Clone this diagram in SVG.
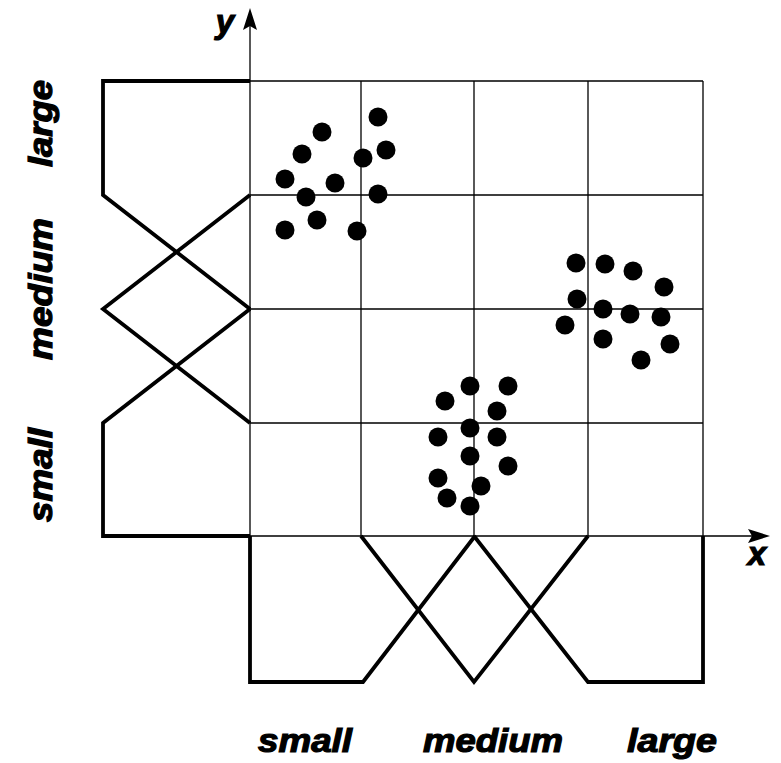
<svg xmlns="http://www.w3.org/2000/svg" width="781" height="763" viewBox="0 0 781 763">
<style>
.grid{stroke:#000;stroke-width:1.3;fill:none}
.mf{stroke:#000;stroke-width:3.8;fill:none;stroke-linejoin:miter}
.dot{fill:#000}
.lbl{font-family:"Liberation Sans",Arial,sans-serif;font-weight:bold;font-style:italic;font-size:33px;fill:#000;stroke:#000;stroke-width:1.2}
</style>
<rect width="781" height="763" fill="#fff"/>
<g id="grid">
<path class="grid" d="M250,81H703M250,195H703M250,309H703M250,423H703M361,81V536M474,81V536M588,81V536M703,81V536"/>
</g>
<g id="axes">
<path class="grid" d="M250,536H752M250,536V26" stroke-width="1.5"/>
<path d="M770,536L748,529L752,536L748,543Z" fill="#000"/>
<path d="M250,8L243,30L250,26L257,30Z" fill="#000"/>
<text class="lbl" x="225" y="33" text-anchor="middle" font-size="36">y</text>
<text class="lbl" x="757" y="565" text-anchor="middle">x</text>
</g>
<g id="y-membership">
<path class="mf" d="M250,81H103V195L250,309"/>
<path class="mf" d="M250,195L103,309L250,423"/>
<path class="mf" d="M250,309L103,423V536H250"/>
</g>
<g id="x-membership">
<path class="mf" d="M250,536V682H363L475,536"/>
<path class="mf" d="M361,536L474,682L588,536"/>
<path class="mf" d="M474,536L588,682H703V536"/>
</g>
<g id="cluster-small-large">
<circle class="dot" cx="378" cy="117" r="9.5"/>
<circle class="dot" cx="322" cy="132" r="9.5"/>
<circle class="dot" cx="386" cy="150" r="9.5"/>
<circle class="dot" cx="302" cy="154" r="9.5"/>
<circle class="dot" cx="363" cy="158" r="9.5"/>
<circle class="dot" cx="285" cy="179" r="9.5"/>
<circle class="dot" cx="335" cy="183" r="9.5"/>
<circle class="dot" cx="378" cy="194" r="9.5"/>
<circle class="dot" cx="306" cy="197" r="9.5"/>
<circle class="dot" cx="317" cy="220" r="9.5"/>
<circle class="dot" cx="285" cy="230" r="9.5"/>
<circle class="dot" cx="357" cy="231" r="9.5"/>
</g>
<g id="cluster-large-medium">
<circle class="dot" cx="576" cy="263" r="9.5"/>
<circle class="dot" cx="605" cy="264" r="9.5"/>
<circle class="dot" cx="633" cy="271" r="9.5"/>
<circle class="dot" cx="664" cy="287" r="9.5"/>
<circle class="dot" cx="577" cy="299" r="9.5"/>
<circle class="dot" cx="603" cy="309" r="9.5"/>
<circle class="dot" cx="630" cy="314" r="9.5"/>
<circle class="dot" cx="661" cy="317" r="9.5"/>
<circle class="dot" cx="565" cy="325" r="9.5"/>
<circle class="dot" cx="603" cy="339" r="9.5"/>
<circle class="dot" cx="670" cy="344" r="9.5"/>
<circle class="dot" cx="641" cy="360" r="9.5"/>
</g>
<g id="cluster-medium-small">
<circle class="dot" cx="470" cy="386" r="9.5"/>
<circle class="dot" cx="508" cy="386" r="9.5"/>
<circle class="dot" cx="445" cy="401" r="9.5"/>
<circle class="dot" cx="497" cy="411" r="9.5"/>
<circle class="dot" cx="470" cy="428" r="9.5"/>
<circle class="dot" cx="438" cy="437" r="9.5"/>
<circle class="dot" cx="497" cy="437" r="9.5"/>
<circle class="dot" cx="470" cy="456" r="9.5"/>
<circle class="dot" cx="508" cy="466" r="9.5"/>
<circle class="dot" cx="438" cy="478" r="9.5"/>
<circle class="dot" cx="481" cy="486" r="9.5"/>
<circle class="dot" cx="447" cy="498" r="9.5"/>
<circle class="dot" cx="470" cy="506" r="9.5"/>
</g>
<g id="x-labels">
<text class="lbl" x="258" y="752" textLength="94" lengthAdjust="spacingAndGlyphs">small</text>
<text class="lbl" x="423" y="752" textLength="140" lengthAdjust="spacingAndGlyphs">medium</text>
<text class="lbl" x="627" y="752" textLength="90" lengthAdjust="spacingAndGlyphs">large</text>
</g>
<g id="y-labels">
<text class="lbl" transform="translate(52,167) rotate(-90)" textLength="87" lengthAdjust="spacingAndGlyphs">large</text>
<text class="lbl" transform="translate(52,360) rotate(-90)" textLength="142" lengthAdjust="spacingAndGlyphs">medium</text>
<text class="lbl" transform="translate(52,522) rotate(-90)" textLength="94" lengthAdjust="spacingAndGlyphs">small</text>
</g>
</svg>
